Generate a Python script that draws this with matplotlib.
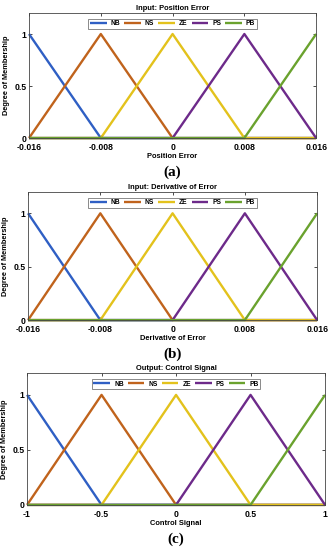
import matplotlib
matplotlib.use("Agg")
import matplotlib.pyplot as plt

plt.rcParams['font.family'] = ['Liberation Sans', 'DejaVu Sans']

labels = ["NB", "NS", "ZE", "PS", "PB"]
colors = ["#2f5fc4", "#c0631c", "#e3c21c", "#6d2a8a", "#6aa22e"]

# breakpoints of the membership functions
err_points = [-0.016, -0.008, 0, 0.008, 0.016]
err_ticklabels = ["-0.016", "-0.008", "0", "0.008", "0.016"]
ctrl_points = [-1, -0.5, 0, 0.5, 1]
ctrl_ticklabels = ["-1", "-0.5", "0", "0.5", "1"]

# membership degree of each set at the breakpoints
nb = [1, 0, 0, 0, 0]
ns = [0, 1, 0, 0, 0]
ze = [0, 0, 1, 0, 0]
ps = [0, 0, 0, 1, 0]
pb = [0, 0, 0, 0, 1]
memberships = [nb, ns, ze, ps, pb]

panels = [
    ("Input: Position Error", "Position Error", err_points, err_ticklabels, "(a)",
     [0.088, 0.749, 0.870, 0.227]),
    ("Input: Derivative of Error", "Derivative of Error", err_points, err_ticklabels, "(b)",
     [0.085, 0.418, 0.876, 0.233]),
    ("Output: Control Signal", "Control Signal", ctrl_points, ctrl_ticklabels, "(c)",
     [0.082, 0.082, 0.903, 0.240]),
]

fig = plt.figure(figsize=(3.3, 5.5), dpi=100)
for title, xlabel, pts, tls, cap, rect in panels:
    ax = fig.add_axes(rect)
    for lab, col, m in zip(labels, colors, memberships):
        ax.plot(pts, m, color=col, lw=1.7, label=lab, clip_on=False,
                solid_capstyle='butt')
    ax.set_xlim(pts[0], pts[-1])
    ax.set_ylim(0, 1.2)
    ax.set_xticks(pts)
    ax.set_xticklabels(tls)
    ax.set_yticks([0, 0.5, 1])
    ax.set_yticklabels(["0", "0.5", "1"])
    ax.tick_params(direction='in', length=2, width=0.5, labelsize=6.2,
                   top=True, right=True)
    ax.tick_params(axis='x', pad=3.5)
    ax.tick_params(axis='y', pad=2)
    for t in ax.get_xticklabels() + ax.get_yticklabels():
        t.set_fontweight('bold')
    for s in ax.spines.values():
        s.set_linewidth(0.6)
        s.set_color('#444444')
    ax.set_title(title, fontsize=5.4, fontweight='bold', pad=2)
    ax.set_xlabel(xlabel, fontsize=5.4, fontweight='bold', labelpad=1)
    ax.set_ylabel("Degree of Membership", fontsize=5.3, fontweight='bold', labelpad=3)
    leg = ax.legend(ncol=5, loc='upper center', bbox_to_anchor=(0.5, 0.955),
                    prop={'weight': 'bold', 'size': 4.8},
                    handlelength=2.5, handletextpad=0.6, columnspacing=0.6,
                    borderpad=0.25, frameon=True, fancybox=False, borderaxespad=0)
    leg.get_frame().set_edgecolor('#555555')
    leg.get_frame().set_linewidth(0.6)
    fig.text(rect[0] + rect[2] / 2, rect[1] - 0.062, cap, ha='center', va='center',
             fontsize=11, family='Liberation Serif', fontweight='bold')

fig.savefig("out.png", dpi=100)
